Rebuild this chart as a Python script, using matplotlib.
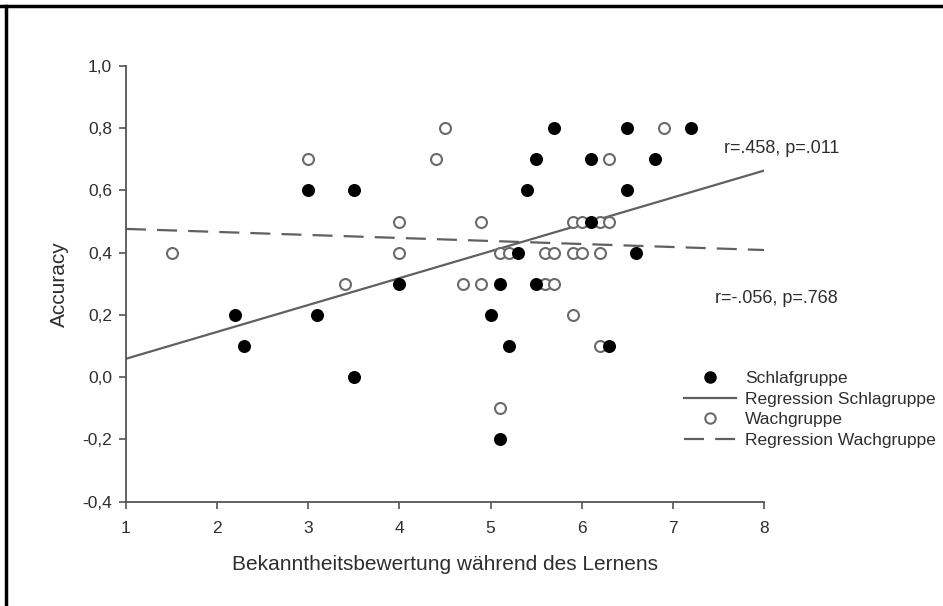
import matplotlib
matplotlib.use("Agg")
import matplotlib.pyplot as plt
import numpy as np
from matplotlib.lines import Line2D

plt.rcParams['font.family'] = ['Liberation Sans', 'DejaVu Sans']

# Schlafgruppe (filled)
sleep_x = [2.2, 2.3, 3.0, 3.1, 3.5, 3.5, 4.0, 5.0, 5.1, 5.1, 5.2, 5.3, 5.4, 5.5,
           5.5, 5.7, 6.1, 6.1, 6.3, 6.5, 6.5, 6.6, 6.8, 7.2]
sleep_y = [0.2, 0.1, 0.6, 0.2, 0.6, 0.0, 0.3, 0.2, 0.3, -0.2, 0.1, 0.4, 0.6, 0.7,
           0.3, 0.8, 0.7, 0.5, 0.1, 0.8, 0.6, 0.4, 0.7, 0.8]

# Wachgruppe (open)
wake_x = [1.5, 3.0, 3.4, 4.0, 4.0, 4.4, 4.5, 4.7, 4.9, 4.9, 5.1, 5.1, 5.2, 5.6,
          5.6, 5.7, 5.7, 5.9, 5.9, 5.9, 6.0, 6.0, 6.2, 6.2, 6.2, 6.3, 6.3, 6.9]
wake_y = [0.4, 0.7, 0.3, 0.5, 0.4, 0.7, 0.8, 0.3, 0.5, 0.3, 0.4, -0.1, 0.4, 0.4,
          0.3, 0.4, 0.3, 0.5, 0.4, 0.2, 0.5, 0.4, 0.5, 0.4, 0.1, 0.5, 0.7, 0.8]

# Regression lines: (intercept at x=0, slope)
reg_sleep = (-0.0275, 0.0864)
reg_wake = (0.486, -0.0097)

x_range = [1, 8]
x_ticks = [1, 2, 3, 4, 5, 6, 7, 8]
y_ticks = [-0.4, -0.2, 0.0, 0.2, 0.4, 0.6, 0.8, 1.0]
y_ticklabels = ["-0,4", "-0,2", "0,0", "0,2", "0,4", "0,6", "0,8", "1,0"]

stat_sleep = "r=.458, p=.011"
stat_wake = "r=-.056, p=.768"

fig = plt.figure(figsize=(9.43, 6.06), dpi=100)
ax = fig.add_axes([126/943, 1 - 501.5/606, (764-126)/943, (501.5-66)/606])

line_col = '#606060'
text_col = '#2e2e2e'

xs = np.array(x_range, dtype=float)
ax.plot(xs, reg_sleep[0] + reg_sleep[1]*xs, color=line_col, lw=1.6, zorder=2)
ax.plot(xs, reg_wake[0] + reg_wake[1]*xs, color=line_col, lw=1.6,
        dashes=(9, 5), zorder=2)

ax.scatter(wake_x, wake_y, s=62, facecolors='white', edgecolors='#6a6a6a',
           linewidths=1.5, zorder=3)
ax.scatter(sleep_x, sleep_y, s=70, color='black', zorder=4)

ax.set_xlim(1, 8)
ax.set_ylim(-0.4, 1.0)
ax.set_xticks(x_ticks)
ax.set_yticks(y_ticks)
ax.set_yticklabels(y_ticklabels)
for s in ['top', 'right']:
    ax.spines[s].set_visible(False)
for s in ['left', 'bottom']:
    ax.spines[s].set_color('#555555')
    ax.spines[s].set_linewidth(1.3)
ax.tick_params(direction='out', length=5, width=1.2, colors='#555555',
               labelsize=12.5, labelcolor=text_col, pad=5)
ax.tick_params(axis='x', pad=9)

ax.set_xlabel("Bekanntheitsbewertung während des Lernens", fontsize=15,
              color=text_col, labelpad=14)
ax.set_ylabel("Accuracy", fontsize=15, color=text_col, labelpad=10)

ax.text(7.56, 0.736, stat_sleep, fontsize=13, color=text_col, va='center',
        clip_on=False)
ax.text(7.46, 0.254, stat_wake, fontsize=13, color=text_col, va='center',
        clip_on=False)

handles = [
    Line2D([], [], marker='o', color='black', ls='none', markersize=8),
    Line2D([], [], color=line_col, lw=1.6),
    Line2D([], [], marker='o', ls='none', markerfacecolor='white',
           markeredgecolor='#6a6a6a', markeredgewidth=1.5, markersize=7.5),
    Line2D([], [], color=line_col, lw=1.6, dashes=(9, 5)),
]
labels = ["Schlafgruppe", "Regression Schlagruppe", "Wachgruppe",
          "Regression Wachgruppe"]
leg = fig.legend(handles, labels, loc='upper left',
                 bbox_to_anchor=(684/943, 1 - 371/606), frameon=False,
                 fontsize=12.5, labelspacing=0.31, handlelength=3.0,
                 handletextpad=0.5, borderpad=0, borderaxespad=0)
for t in leg.get_texts():
    t.set_color(text_col)

# outer frame (top and left edges)
fig.add_artist(Line2D([0, 1], [1 - 6/606, 1 - 6/606], color='black', lw=2.5,
                      transform=fig.transFigure))
fig.add_artist(Line2D([6/943, 6/943], [0, 1 - 6/606], color='black', lw=2.5,
                      transform=fig.transFigure))

fig.savefig("out.png", dpi=100, facecolor='white')
